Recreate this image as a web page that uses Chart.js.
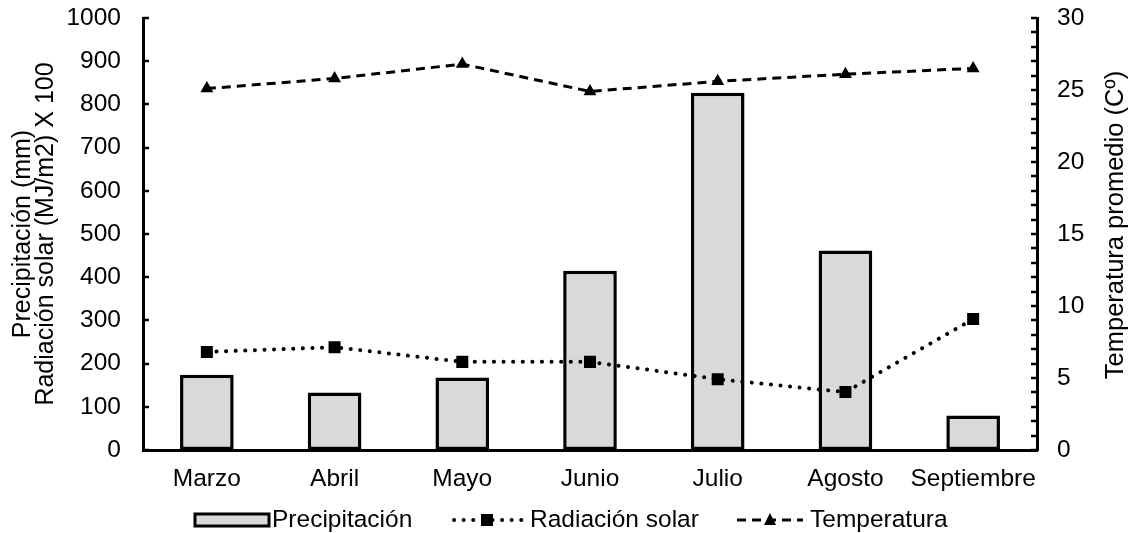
<!DOCTYPE html>
<html>
<head>
<meta charset="utf-8">
<script src="https://cdn.jsdelivr.net/npm/chart.js@4.4.1/dist/chart.umd.min.js"></script>
<style>
  html, body { margin: 0; padding: 0; background: #fff; }
  #wrap { width: 1133px; height: 533px; }
</style>
</head>
<body>
<div id="wrap"><canvas id="myChart" width="1133" height="533"></canvas></div>
<script>
const meses = ["Marzo", "Abril", "Mayo", "Junio", "Julio", "Agosto", "Septiembre"];
const precipitacion = [174, 133, 168, 415, 827, 462, 80];
const radiacion = [227, 238, 204, 204, 164, 134, 303];
const temperatura = [25.1, 25.8, 26.8, 24.9, 25.6, 26.1, 26.5];

const leftMax = 1000;
const leftStep = 100;
const rightMax = 30;
const rightStep = 5;
const rightMinorStep = 1;

const FONT = '"Liberation Sans", Arial, sans-serif';
const FS = 24.5;
Chart.defaults.font.family = FONT;
Chart.defaults.color = "#000";

const ctx = document.getElementById("myChart").getContext("2d");

// inward tick marks, right title and the legend row
const extras = {
  id: "extras",
  afterDraw(chart) {
    const c = chart.ctx;
    const y = chart.scales.y;
    const y1 = chart.scales.y1;
    const area = chart.chartArea;

    c.save();
    c.strokeStyle = "#000";
    c.lineWidth = 2.5;
    for (let v = 0; v <= leftMax; v += leftStep) {
      const py = Math.round(y.getPixelForValue(v));
      c.beginPath();
      c.moveTo(area.left, py);
      c.lineTo(area.left + 6, py);
      c.stroke();
    }
    for (let v = 0; v <= rightMax; v += rightMinorStep) {
      const py = Math.round(y1.getPixelForValue(v));
      c.beginPath();
      c.moveTo(area.right, py);
      c.lineTo(area.right - 6, py);
      c.stroke();
    }

    // right axis title, reading bottom to top
    c.fillStyle = "#000";
    c.font = "25.5px " + FONT;
    c.textAlign = "center";
    c.textBaseline = "middle";
    c.translate(1116, (area.top + area.bottom) / 2 - 9);
    c.rotate(-Math.PI / 2);
    c.fillText("Temperatura promedio (Cº)", 0, 0);
    c.restore();

    // legend
    const ly = 520;
    c.save();
    c.font = FS + "px " + FONT;
    c.textAlign = "left";
    c.textBaseline = "middle";

    c.fillStyle = "#d9d9d9";
    c.fillRect(195, ly - 6, 74, 12);
    c.strokeStyle = "#000";
    c.lineWidth = 3;
    c.strokeRect(195, ly - 6, 74, 12);
    c.fillStyle = "#000";
    c.fillText("Precipitación", 272, ly);

    c.lineWidth = 4;
    c.lineCap = "round";
    c.setLineDash([0.1, 9.5]);
    c.beginPath();
    c.moveTo(454, ly);
    c.lineTo(524, ly);
    c.stroke();
    c.setLineDash([]);
    c.fillRect(481, ly - 6, 12, 12);
    c.fillText("Radiación solar", 530, ly);

    c.lineWidth = 3;
    c.lineCap = "butt";
    c.setLineDash([9, 6]);
    c.beginPath();
    c.moveTo(737, ly);
    c.lineTo(803, ly);
    c.stroke();
    c.setLineDash([]);
    c.beginPath();
    c.moveTo(770, ly - 7);
    c.lineTo(776, ly + 5);
    c.lineTo(764, ly + 5);
    c.closePath();
    c.fill();
    c.fillText("Temperatura", 810, ly);
    c.restore();
  },
};

new Chart(ctx, {
  data: {
    labels: meses,
    datasets: [
      {
        type: "line",
        label: "Radiación solar",
        data: radiacion,
        yAxisID: "y",
        borderColor: "#000",
        borderWidth: 4,
        borderDash: [0.1, 9.5],
        borderCapStyle: "round",
        pointStyle: "rect",
        pointRadius: 8.5,
        pointBackgroundColor: "#000",
        pointBorderWidth: 0,
        tension: 0,
        order: 1,
      },
      {
        type: "line",
        label: "Temperatura",
        data: temperatura,
        yAxisID: "y1",
        borderColor: "#000",
        borderWidth: 3,
        borderDash: [9, 6],
        pointStyle: "triangle",
        pointRadius: 7.5,
        pointBackgroundColor: "#000",
        pointBorderWidth: 0,
        tension: 0,
        order: 2,
      },
      {
        type: "bar",
        label: "Precipitación",
        data: precipitacion,
        yAxisID: "y",
        backgroundColor: "#d9d9d9",
        borderColor: "#000",
        borderWidth: 3.5,
        borderSkipped: false,
        barPercentage: 0.42,
        categoryPercentage: 1,
        order: 3,
      },
    ],
  },
  options: {
    responsive: false,
    devicePixelRatio: 1,
    animation: false,
    layout: { padding: { top: 18, right: 0, bottom: 0, left: 0 } },
    plugins: {
      legend: { display: false },
      tooltip: { enabled: false },
    },
    scales: {
      x: {
        offset: true,
        grid: { display: false, drawTicks: false },
        border: { display: true, color: "#000", width: 3 },
        ticks: {
          color: "#000",
          font: { size: FS },
          padding: 15,
          maxRotation: 0,
          autoSkip: false,
        },
        afterFit(scale) {
          scale.height = 83;
          scale.paddingLeft = 0;
          scale.paddingRight = 0;
        },
      },
      y: {
        position: "left",
        min: 0,
        max: leftMax,
        grid: { display: false, drawTicks: false },
        border: { display: true, color: "#000", width: 3 },
        ticks: {
          stepSize: leftStep,
          color: "#000",
          font: { size: FS },
          padding: 22,
          callback: (v) => String(v),
        },
        title: {
          display: true,
          text: ["Precipitación (mm)", "Radiación solar (MJ/m2) X 100"],
          color: "#000",
          font: { size: 25, lineHeight: 0.93 },
          padding: { top: 11, bottom: 0 },
        },
        afterFit(scale) {
          scale.width = 143;
          scale.paddingTop = 0;
          scale.paddingBottom = 0;
        },
      },
      y1: {
        position: "right",
        min: 0,
        max: rightMax,
        grid: { display: false, drawTicks: false },
        border: { display: true, color: "#000", width: 3 },
        ticks: {
          stepSize: rightStep,
          color: "#000",
          font: { size: FS },
          padding: 20,
          callback: (v) => String(v),
        },
        afterFit(scale) {
          scale.width = 96;
          scale.paddingTop = 0;
          scale.paddingBottom = 0;
        },
      },
    },
  },
  plugins: [extras],
});
</script>
</body>
</html>
